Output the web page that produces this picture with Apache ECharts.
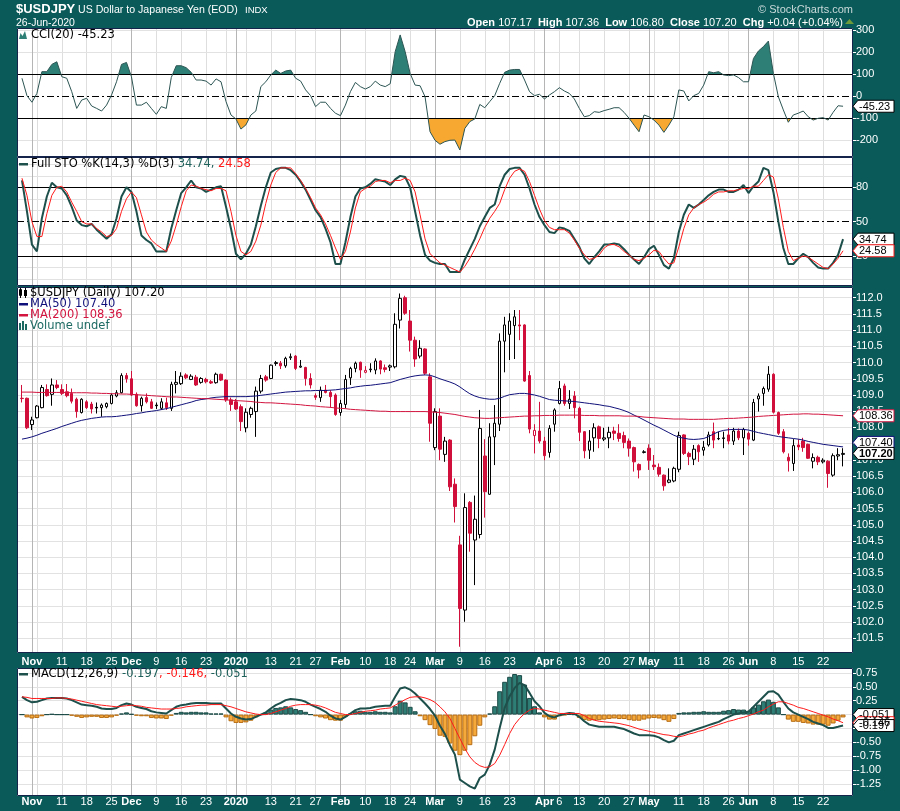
<!DOCTYPE html>
<html><head><meta charset="utf-8">
<script src="https://cdn.jsdelivr.net/npm/echarts@6/dist/echarts.min.js"></script>
<style>html,body{margin:0;padding:0;background:#0b5a5a;}#c{width:900px;height:811px;}</style>
</head><body><div id="c"></div>
<script>
// ---------- DATA (daily bars 2019-10-30 .. 2020-06-26) ----------
const firstBarDate = '2019-10-30';
const open = [108.90,108.90,108.09,108.30,108.61,109.17,109.02,109.31,109.17,109.10,109.05,108.87,
108.46,108.79,108.72,108.62,108.61,108.64,108.74,108.97,109.07,109.60,
109.50,109.02,108.67,108.92,108.79,108.69,108.59,108.76,108.59,109.33,
109.35,109.62,109.48,109.55,109.39,109.48,109.41,109.38,109.64,109.46,
108.85,108.79,108.64,107.99,108.40,108.49,109.12,109.56,109.51,109.97,
109.98,109.90,110.15,110.20,109.86,109.85,109.51,108.98,108.92,109.15,
109.08,109.00,108.46,108.71,109.53,109.82,110.01,109.70,109.78,109.77,
110.05,109.84,109.86,109.87,111.31,112.00,111.28,110.69,110.20,110.42,
109.56,107.38,108.35,107.17,107.61,106.25,104.38,102.37,105.69,104.53,
104.70,107.12,105.94,107.71,108.10,110.66,110.87,111.14,111.16,111.16,
109.60,107.75,107.89,107.58,107.23,108.10,108.74,109.28,108.74,108.97,
108.59,107.87,107.30,107.68,108.02,107.64,107.68,107.89,107.82,107.75,
107.58,107.38,106.86,107.23,107.36,106.84,106.77,106.53,106.31,106.35,
106.71,107.77,107.20,107.02,107.44,107.30,107.46,107.87,107.66,107.66,
107.77,107.58,107.89,107.68,107.82,107.61,108.88,109.05,109.18,109.64,
108.46,107.87,107.08,106.89,107.46,107.58,107.48,106.96,107.08,106.94,
106.96,106.53,107.12,107.17];
const high = [109.31,108.92,108.33,108.69,109.31,109.33,109.51,109.46,109.33,109.34,109.20,108.92,
108.90,108.84,108.79,108.77,108.74,108.77,109.05,109.15,109.67,109.68,
109.74,109.08,108.95,109.05,108.88,108.77,108.90,108.92,109.41,109.74,
109.70,109.67,109.64,109.62,109.55,109.53,109.46,109.69,109.66,109.48,
108.92,108.88,108.71,108.59,108.64,109.26,109.62,109.62,109.94,110.05,
110.05,110.18,110.28,110.23,110.08,109.87,109.67,109.05,109.26,109.31,
109.15,109.05,108.85,109.62,109.87,110.03,110.03,109.89,109.98,110.13,
110.07,109.94,109.94,111.52,112.13,112.06,111.62,110.80,110.69,110.44,
109.67,108.59,108.59,107.71,107.64,106.43,104.66,105.97,105.73,105.90,
108.54,107.64,108.13,108.69,110.90,111.41,111.52,111.62,111.62,111.18,
109.74,108.10,108.79,107.71,108.07,108.59,109.43,109.35,109.15,109.12,
108.64,107.89,107.92,108.13,108.06,107.99,108.02,108.02,108.10,107.87,
107.66,107.41,106.89,107.30,107.48,107.15,106.89,106.55,106.74,106.79,
107.87,107.79,107.25,107.46,107.48,107.58,107.87,108.15,107.87,107.87,
107.99,107.99,107.97,107.99,107.87,108.88,109.05,109.26,109.89,109.67,
108.49,107.95,107.20,107.64,107.64,107.68,107.50,107.20,107.13,107.05,
106.99,107.20,107.36,107.36];
const low = [108.77,107.95,107.92,108.28,108.59,108.95,108.67,109.18,109.00,108.93,108.74,108.30,
108.43,108.57,108.43,108.43,108.33,108.59,108.71,108.93,109.05,109.38,
108.97,108.64,108.49,108.74,108.57,108.57,108.54,108.54,108.51,109.05,
109.31,109.49,109.46,109.28,109.35,109.36,109.34,109.35,109.43,108.79,
108.51,108.54,107.89,107.85,108.30,107.71,109.05,109.41,109.49,109.90,
109.80,109.84,110.08,109.77,109.84,109.29,109.20,108.85,108.79,109.05,
108.61,108.36,108.36,108.59,109.31,109.70,109.53,109.67,109.70,109.64,
109.64,109.70,109.74,109.82,111.05,111.47,110.34,109.87,110.13,109.62,
107.56,107.30,106.99,106.94,106.04,105.07,101.24,102.01,104.17,103.14,
104.58,105.22,105.92,106.84,107.89,109.70,110.08,110.11,110.69,109.41,
107.82,107.20,107.51,106.99,107.07,107.87,108.71,108.67,108.57,108.28,
107.58,107.05,107.03,107.25,107.36,107.58,107.36,107.61,107.56,107.36,
107.10,106.64,106.43,107.20,106.69,106.69,106.48,106.05,106.28,106.31,
106.62,107.15,106.84,106.84,106.94,107.13,107.41,107.36,107.61,107.36,
107.48,107.46,107.61,107.15,107.44,107.58,108.49,108.67,109.10,108.43,
107.77,107.20,106.64,106.66,107.30,107.25,107.03,106.74,106.84,106.89,
106.14,106.48,106.99,106.80];
const close = [108.89,107.99,108.23,108.66,109.23,108.98,109.31,109.23,109.05,108.98,108.81,108.49,
108.87,108.61,108.57,108.60,108.69,108.74,109.00,109.07,109.60,109.50,
109.00,108.67,108.90,108.79,108.59,108.67,108.79,108.61,109.33,109.39,
109.58,109.53,109.58,109.31,109.51,109.41,109.37,109.64,109.46,108.85,
108.71,108.57,108.18,108.47,108.59,109.12,109.51,109.46,109.92,110.00,
109.90,110.13,110.18,109.82,109.89,109.51,109.31,108.93,109.15,109.08,
108.95,108.40,108.74,109.48,109.82,109.98,109.77,109.76,109.80,110.05,
109.80,109.79,109.90,111.18,111.98,111.52,110.69,110.11,110.44,109.67,
108.13,108.49,107.33,107.58,106.17,105.56,102.42,105.53,104.74,105.17,
107.97,106.02,107.71,108.13,110.66,111.16,111.28,111.41,111.13,109.43,
107.95,107.91,107.58,107.13,107.97,108.54,109.20,108.74,108.87,108.61,
107.85,107.28,107.58,107.99,107.66,107.68,107.85,107.82,107.66,107.54,
107.36,106.94,106.69,107.25,106.99,106.79,106.56,106.20,106.38,106.74,
107.75,107.20,107.10,107.33,107.25,107.39,107.77,107.61,107.65,107.68,
107.58,107.89,107.68,107.94,107.64,108.77,108.97,109.20,109.64,108.47,
107.82,107.25,106.97,107.44,107.40,107.38,107.05,107.07,106.94,106.99,
106.58,107.13,107.16,107.20];
const ma50 = [107.64,107.67,107.71,107.76,107.82,107.87,107.92,107.97,108.03,108.08,108.13,108.18,
108.22,108.25,108.28,108.30,108.32,108.33,108.33,108.34,108.36,108.38,
108.40,108.43,108.45,108.48,108.50,108.52,108.55,108.58,108.62,108.66,
108.70,108.74,108.78,108.83,108.86,108.88,108.91,108.93,108.94,108.95,
108.95,108.95,108.95,108.95,108.96,108.97,108.99,109.01,109.03,109.05,
109.07,109.09,109.10,109.11,109.12,109.13,109.13,109.14,109.14,109.14,
109.15,109.16,109.18,109.20,109.22,109.25,109.27,109.29,109.30,109.32,
109.34,109.36,109.38,109.43,109.48,109.52,109.56,109.59,109.61,109.62,
109.61,109.56,109.50,109.45,109.40,109.34,109.25,109.14,109.04,108.97,
108.92,108.89,108.87,108.87,108.90,108.96,109.01,109.03,109.05,109.05,
109.03,109.00,108.96,108.91,108.86,108.84,108.83,108.82,108.81,108.80,
108.78,108.76,108.74,108.72,108.70,108.67,108.65,108.61,108.57,108.52,
108.46,108.38,108.31,108.23,108.15,108.07,108.00,107.92,107.84,107.76,
107.70,107.67,107.64,107.63,107.64,107.66,107.72,107.80,107.87,107.91,
107.93,107.94,107.94,107.94,107.92,107.88,107.84,107.81,107.78,107.75,
107.72,107.70,107.68,107.66,107.64,107.61,107.57,107.54,107.51,107.48,
107.46,107.44,107.42,107.40];
const ma200 = [109.09,109.09,109.09,109.08,109.08,109.08,109.08,109.08,109.08,109.08,109.07,109.07,
109.07,109.07,109.06,109.06,109.05,109.05,109.04,109.04,109.03,109.03,
109.02,109.01,109.00,108.99,108.98,108.97,108.96,108.95,108.94,108.94,
108.93,108.92,108.91,108.90,108.89,108.89,108.88,108.87,108.86,108.85,
108.84,108.83,108.82,108.81,108.80,108.78,108.77,108.76,108.76,108.75,
108.74,108.73,108.72,108.71,108.70,108.68,108.67,108.66,108.64,108.63,
108.62,108.60,108.59,108.58,108.56,108.55,108.54,108.53,108.52,108.51,
108.50,108.50,108.49,108.49,108.49,108.49,108.49,108.49,108.49,108.49,
108.48,108.47,108.46,108.44,108.42,108.40,108.37,108.34,108.32,108.30,
108.29,108.28,108.28,108.29,108.30,108.31,108.32,108.33,108.34,108.35,
108.35,108.36,108.36,108.37,108.37,108.37,108.38,108.38,108.38,108.38,
108.38,108.37,108.37,108.37,108.36,108.36,108.36,108.36,108.36,108.35,
108.35,108.35,108.34,108.32,108.31,108.30,108.29,108.28,108.27,108.26,
108.26,108.26,108.25,108.25,108.25,108.25,108.25,108.25,108.26,108.27,
108.28,108.28,108.29,108.30,108.31,108.32,108.34,108.35,108.36,108.37,
108.38,108.39,108.40,108.41,108.41,108.42,108.42,108.41,108.41,108.40,
108.39,108.38,108.37,108.36];
const cci = [82,3,-27,13,112,112,145,157,89,82,21,-55,
-17,-9,-44,-55,-67,-40,6,66,145,154,
89,-40,-40,-27,-55,-82,-47,-55,85,139,
139,130,109,74,74,69,51,79,66,-24,
-85,-103,-149,-130,-85,-67,44,66,97,119,
104,115,119,82,69,29,3,-47,-27,-27,
-55,-77,-88,-40,21,63,44,33,44,69,
51,44,57,203,279,203,104,51,48,-2,
-161,-200,-218,-206,-200,-199,-244,-146,-115,-103,
-37,-52,-24,3,59,109,119,122,122,74,
21,3,9,-12,6,21,39,24,13,-12,
-55,-93,-88,-70,-73,-65,-59,-52,-52,-73,
-100,-131,-161,-85,-93,-108,-131,-164,-131,-93,
29,24,-21,3,13,51,112,107,112,97,
94,97,85,66,66,172,206,226,251,104,
-2,-62,-118,-85,-77,-67,-93,-108,-100,-97,
-108,-73,-43,-45.23];
const stoK = [86,59,30,24,53,72,84,80,79,73,63,51,
47,46,48,43,39,35,39,53,72,80,
76,59,38,34,31,24,24,24,44,60,
75,80,86,80,79,76,78,80,81,63,
44,22,17,22,30,46,64,80,93,96,
97,97,95,91,85,78,69,60,54,44,
32,13,13,32,54,72,79,80,83,87,
86,85,82,87,90,89,80,59,38,21,
16,14,13,13,6,6,6,17,26,35,
46,54,62,65,81,91,96,97,97,91,
79,65,54,47,41,40,45,44,42,35,
28,18,13,19,24,30,30,31,30,26,
21,17,13,19,26,29,21,12,9,18,
41,56,65,62,65,69,73,76,78,78,
76,76,78,82,75,81,85,97,95,76,
50,27,13,13,18,22,19,14,10,9,
9,14,21,34.74];
const stoD = [88,73,50,37,37,57,73,80,81,76,67,59,
50,48,48,44,41,37,38,44,59,70,
76,71,56,41,34,30,27,24,33,47,
63,77,82,81,79,78,77,79,79,77,
59,38,24,21,24,33,47,66,82,93,
97,97,97,92,86,79,71,62,56,48,
38,27,17,24,41,62,76,79,81,85,
86,86,84,86,86,88,86,76,56,35,
22,18,14,12,10,8,6,11,18,26,
35,45,53,59,66,78,88,94,96,94,
85,73,61,51,45,43,43,43,40,34,
27,21,17,18,21,27,30,30,28,24,
21,17,16,18,21,25,24,18,13,14,
28,44,56,62,65,67,70,74,76,76,
77,77,78,79,79,81,81,86,91,89,
70,45,24,16,18,20,19,16,13,10,
9,13,18,24.58];
const macd = [0.32,0.26,0.22,0.23,0.26,0.29,0.30,0.30,0.30,0.29,0.26,0.22,
0.18,0.17,0.16,0.14,0.11,0.10,0.10,0.12,0.17,0.20,
0.18,0.14,0.12,0.10,0.06,0.04,0.03,0.02,0.08,0.14,
0.17,0.18,0.20,0.21,0.21,0.21,0.20,0.20,0.20,0.11,
0.02,-0.04,-0.07,-0.09,-0.08,-0.04,0.00,0.04,0.11,0.17,
0.21,0.26,0.28,0.27,0.26,0.23,0.18,0.14,0.10,0.05,
-0.02,-0.07,-0.09,-0.04,0.02,0.08,0.11,0.11,0.12,0.14,
0.15,0.16,0.16,0.32,0.47,0.49,0.45,0.38,0.29,0.20,
0.10,-0.02,-0.20,-0.35,-0.55,-0.72,-1.17,-1.23,-1.29,-1.33,
-1.14,-1.08,-0.90,-0.63,-0.24,0.12,0.33,0.48,0.57,0.53,
0.39,0.24,0.15,0.03,-0.03,-0.05,-0.01,0.01,0.03,0.02,
-0.04,-0.12,-0.18,-0.20,-0.22,-0.22,-0.22,-0.22,-0.24,-0.26,
-0.30,-0.34,-0.37,-0.37,-0.37,-0.38,-0.41,-0.46,-0.50,-0.47,
-0.37,-0.34,-0.31,-0.28,-0.25,-0.22,-0.19,-0.16,-0.13,-0.08,
-0.04,0.00,0.02,0.04,0.05,0.14,0.23,0.32,0.41,0.42,
0.36,0.23,0.11,0.04,0.00,-0.04,-0.08,-0.13,-0.16,-0.19,
-0.24,-0.24,-0.22,-0.197];
const signal = [0.32,0.31,0.29,0.29,0.29,0.29,0.29,0.30,0.30,0.29,0.28,0.26,
0.24,0.22,0.20,0.18,0.17,0.16,0.15,0.14,0.15,0.16,
0.17,0.16,0.15,0.13,0.12,0.11,0.10,0.10,0.10,0.11,
0.12,0.14,0.15,0.16,0.17,0.17,0.18,0.18,0.18,0.16,
0.14,0.11,0.08,0.05,0.03,0.01,0.00,0.00,0.02,0.05,
0.08,0.11,0.15,0.17,0.18,0.18,0.18,0.17,0.15,0.12,
0.08,0.04,0.02,0.00,0.00,0.02,0.04,0.06,0.07,0.08,
0.10,0.11,0.12,0.17,0.22,0.27,0.31,0.32,0.32,0.30,
0.27,0.22,0.14,0.05,-0.07,-0.25,-0.43,-0.61,-0.76,-0.86,
-0.92,-0.95,-0.94,-0.88,-0.73,-0.54,-0.34,-0.18,-0.07,0.02,
0.08,0.11,0.10,0.08,0.06,0.04,0.02,0.02,0.02,0.02,
0.02,-0.02,-0.07,-0.10,-0.12,-0.13,-0.14,-0.15,-0.16,-0.18,
-0.20,-0.23,-0.26,-0.28,-0.30,-0.32,-0.34,-0.36,-0.37,-0.39,
-0.40,-0.38,-0.35,-0.33,-0.30,-0.28,-0.24,-0.21,-0.18,-0.15,
-0.12,-0.10,-0.07,-0.05,-0.02,0.01,0.05,0.08,0.14,0.19,
0.23,0.23,0.20,0.17,0.13,0.11,0.08,0.05,0.02,-0.01,
-0.04,-0.08,-0.11,-0.146];
const hist = [0.00,-0.05,-0.07,-0.06,-0.03,0.00,0.01,0.00,0.00,0.00,-0.02,-0.04,
-0.06,-0.05,-0.04,-0.04,-0.06,-0.06,-0.05,-0.02,0.02,0.04,
0.01,-0.02,-0.03,-0.03,-0.06,-0.07,-0.07,-0.08,-0.02,0.03,
0.05,0.04,0.05,0.05,0.04,0.04,0.02,0.02,0.02,-0.05,
-0.12,-0.15,-0.15,-0.14,-0.11,-0.05,0.00,0.04,0.09,0.12,
0.13,0.15,0.13,0.10,0.08,0.05,0.00,-0.03,-0.05,-0.07,
-0.10,-0.11,-0.11,-0.04,0.02,0.06,0.07,0.05,0.05,0.06,
0.05,0.05,0.04,0.15,0.25,0.22,0.14,0.06,-0.03,-0.10,
-0.19,-0.26,-0.38,-0.40,-0.52,-0.65,-0.73,-0.65,-0.55,-0.39,
-0.20,-0.05,0.02,0.15,0.42,0.59,0.68,0.73,0.71,0.54,
0.30,0.15,0.04,-0.05,-0.09,-0.09,-0.03,-0.01,0.01,0.00,
-0.06,-0.10,-0.11,-0.10,-0.10,-0.09,-0.08,-0.07,-0.08,-0.08,
-0.10,-0.11,-0.11,-0.09,-0.07,-0.06,-0.07,-0.10,-0.13,-0.08,
0.03,0.04,0.04,0.05,0.05,0.06,0.05,0.05,0.05,0.07,
0.08,0.10,0.09,0.09,0.07,0.13,0.18,0.24,0.27,0.23,
0.13,0.00,-0.09,-0.13,-0.13,-0.15,-0.16,-0.18,-0.18,-0.18,
-0.20,-0.16,-0.11,-0.051];

// tick labels of the date axis
const tickDates = ['2019-11-01','2019-11-11','2019-11-18','2019-11-25','2019-12-02','2019-12-09','2019-12-16','2019-12-23','2020-01-02','2020-01-13','2020-01-21','2020-01-27','2020-02-03','2020-02-10','2020-02-18','2020-02-24','2020-03-02','2020-03-09','2020-03-16','2020-03-23','2020-04-01','2020-04-06','2020-04-13','2020-04-20','2020-04-27','2020-05-01','2020-05-11','2020-05-18','2020-05-26','2020-06-01','2020-06-08','2020-06-15','2020-06-22'];
const tickTexts = ['Nov','11','18','25','Dec','9','16','23','2020','13','21','27','Feb','10','18','24','Mar','9','16','23','Apr','6','13','20','27','May','11','18','26','Jun','8','15','22'];
const monthDates = ['2019-11-01','2019-12-02','2020-01-02','2020-02-03','2020-03-02','2020-04-01','2020-05-01','2020-06-01'];
const weekDates = ['2019-11-04','2019-11-11','2019-11-18','2019-11-25','2019-12-02','2019-12-09','2019-12-16','2019-12-23','2019-12-30','2020-01-06','2020-01-13','2020-01-21','2020-01-27','2020-02-03','2020-02-10','2020-02-18','2020-02-24','2020-03-02','2020-03-09','2020-03-16','2020-03-23','2020-03-30','2020-04-06','2020-04-13','2020-04-20','2020-04-27','2020-05-04','2020-05-11','2020-05-18','2020-05-26','2020-06-01','2020-06-08','2020-06-15','2020-06-22'];
const holidays = ['2019-11-28','2019-12-25','2020-01-01','2020-01-20','2020-02-17','2020-04-10','2020-05-25'];
const priceTicks = [101.5,102,102.5,103,103.5,104,104.5,105,105.5,106,106.5,107,107.5,108,108.5,109,109.5,110,110.5,111,111.5,112];
const cciTicks = [300,200,100,0,-100,-200];
const stoTicks = [80,50,20];
const macdTicks = [0.75,0.5,0.25,0,-0.25,-0.5,-0.75,-1,-1.25];

// ---------- BUILD ----------
function tradingDays(from, to) {
  const out = []; let t = Date.parse(from + 'T00:00:00Z'); const end = Date.parse(to + 'T00:00:00Z');
  while (t <= end) { const d = new Date(t); const wd = d.getUTCDay(); const s = d.toISOString().slice(0, 10);
    if (wd !== 0 && wd !== 6 && holidays.indexOf(s) < 0) out.push(s); t += 86400000; }
  return out;
}
const cats = tradingDays('2019-10-29', '2020-06-30');
const lead = cats.indexOf(firstBarDate);
const trail = cats.length - lead - close.length;
function pad(a) { const r = []; for (let i = 0; i < lead; i++) r.push(null); for (const v of a) r.push(v); for (let i = 0; i < trail; i++) r.push(null); return r; }

const RED = '#d0103a', BLK = '#000000';
const candleData = [];
for (let i = 0; i < lead; i++) candleData.push(['-','-','-','-']);
for (let i = 0; i < close.length; i++) {
  const o = open[i], c = close[i], prev = i > 0 ? close[i - 1] : o;
  const col = c >= prev ? BLK : RED;
  const fill = c > o ? '#ffffff' : col;
  candleData.push({ value: [o, c, low[i], high[i]], itemStyle: { color: fill, color0: fill, borderColor: col, borderColor0: col } });
}
for (let i = 0; i < trail; i++) candleData.push(['-','-','-','-']);
const histData = pad(hist).map(v => v === null ? '-' : { value: v, itemStyle: v >= 0 ? { color: '#2f7e76', borderColor: '#1b4a46' } : { color: '#f6a93b', borderColor: '#b66c12' } });

const tickSet = new Set(tickDates), weekSet = new Set(weekDates), monthSet = new Set(monthDates);
const FONT = '"Liberation Sans", Arial, sans-serif';
const LFONT = '"DejaVu Sans", Verdana, sans-serif';

const G = [
  { left: 17, right: 47, top: 28, height: 129 },
  { left: 17, right: 47, top: 157, height: 129 },
  { left: 17, right: 47, top: 287, height: 366 },
  { left: 17, right: 47, top: 668, height: 128 }
];
function xAx(gi, show, margin) {
  return { type: 'category', gridIndex: gi, data: cats, boundaryGap: false,
    axisLine: { show: false }, axisTick: { show: false },
    axisLabel: { show: show, interval: (i, v) => tickSet.has(v), margin: margin, color: '#fff', fontSize: 11, fontFamily: FONT,
      formatter: v => { const k = tickDates.indexOf(v); if (k < 0) return ''; return monthSet.has(v) ? '{b|' + tickTexts[k] + '}' : '{n|' + tickTexts[k] + '}'; },
      rich: { b: { fontWeight: 'bold', color: '#fff', fontSize: 11, fontFamily: FONT }, n: { color: '#fff', fontSize: 11, fontFamily: FONT } } },
    splitLine: { show: true, interval: (i, v) => weekSet.has(v), lineStyle: { color: '#dedede', width: 1 } } };
}
function yAx(gi, min, max, vals, fmt) {
  return { type: 'value', gridIndex: gi, position: 'right', min: min, max: max,
    axisLine: { show: false }, splitLine: { show: false },
    axisTick: { show: true, length: 3, lineStyle: { color: '#ffffff' }, customValues: vals },
    axisLabel: { color: '#ffffff', fontSize: 11, fontFamily: FONT, margin: 3, customValues: vals, formatter: fmt } };
}
function gridML(yVals) {
  return { silent: true, symbol: ['none', 'none'], animation: false, z: 1, label: { show: false }, emphasis: { disabled: true },
    lineStyle: { color: '#e2e2e2', width: 1, type: 'solid' },
    data: yVals.map(v => ({ yAxis: v })).concat(monthDates.map(d => ({ xAxis: d, lineStyle: { color: '#b5b5b5', width: 1, type: 'solid' } }))) };
}
function refML(solid, dashed) {
  return { silent: true, symbol: ['none', 'none'], animation: false, z: 3, label: { show: false }, emphasis: { disabled: true },
    lineStyle: { color: '#000', width: 1, type: 'solid' },
    data: solid.map(v => ({ yAxis: v })).concat(dashed.map(v => ({ yAxis: v, lineStyle: { color: '#000', width: 1, type: [7, 3, 2, 3] } }))) };
}
const lineBase = { type: 'line', symbol: 'none', showSymbol: false, animation: false, connectNulls: false, emphasis: { disabled: true } };

const chart = echarts.init(document.getElementById('c'), null, { renderer: 'canvas', width: 900, height: 811 });
chart.setOption({
  animation: false,
  backgroundColor: '#0b5a5a',
  grid: G,
  xAxis: [xAx(0, false, 0), xAx(1, false, 0), xAx(2, true, 3), xAx(3, true, 0)],
  yAxis: [
    yAx(0, -276, 310.5, cciTicks, v => String(Math.round(v))),
    yAx(1, -6.2, 106.5, stoTicks, v => String(Math.round(v))),
    yAx(2, 101.047, 112.33, priceTicks, v => v.toFixed(1)),
    yAx(3, -1.464, 0.838, macdTicks, v => v.toFixed(2))
  ],
  visualMap: [
    { type: 'piecewise', show: false, seriesIndex: 0, dimension: 1,
      pieces: [{ gte: -10000, lte: 100, color: 'rgba(255,255,255,0)' }, { gt: 100, lte: 10000, color: '#2e8076' }],
      outOfRange: { color: 'rgba(255,255,255,0)' } },
    { type: 'piecewise', show: false, seriesIndex: 1, dimension: 1,
      pieces: [{ gte: -10000, lt: -100, color: '#f6a831' }, { gte: -100, lte: 10000, color: 'rgba(255,255,255,0)' }],
      outOfRange: { color: 'rgba(255,255,255,0)' } }
  ],
  series: [
    Object.assign({}, lineBase, { name: 'cciUp', xAxisIndex: 0, yAxisIndex: 0, data: pad(cci), z: 2, lineStyle: { width: 0 }, areaStyle: { origin: 100, opacity: 1 }, markLine: gridML([300, 200, -200]) }),
    Object.assign({}, lineBase, { name: 'cciDn', xAxisIndex: 0, yAxisIndex: 0, data: pad(cci), z: 2, lineStyle: { width: 0 }, areaStyle: { origin: -100, opacity: 1 }, markLine: refML([100, -100], [0]) }),
    Object.assign({}, lineBase, { name: 'CCI', xAxisIndex: 0, yAxisIndex: 0, data: pad(cci), z: 5, lineStyle: { color: '#2c5553', width: 1 } }),
    Object.assign({}, lineBase, { name: '%K', xAxisIndex: 1, yAxisIndex: 1, data: pad(stoK), z: 4, lineStyle: { color: '#1d4f4b', width: 2 }, markLine: refML([80, 20], [50]) }),
    Object.assign({}, lineBase, { name: '%D', xAxisIndex: 1, yAxisIndex: 1, data: pad(stoD), z: 5, lineStyle: { color: '#ff1a1a', width: 1 }, markLine: gridML([0, 10, 30, 40, 60, 70, 90, 100]) }),
    { type: 'candlestick', name: 'USDJPY', xAxisIndex: 2, yAxisIndex: 2, data: candleData, barWidth: 3, z: 3, animation: false, emphasis: { disabled: true }, itemStyle: { borderWidth: 1 } },
    Object.assign({}, lineBase, { name: 'MA50', xAxisIndex: 2, yAxisIndex: 2, data: pad(ma50), z: 4, lineStyle: { color: '#10107a', width: 1 }, markLine: gridML(priceTicks) }),
    Object.assign({}, lineBase, { name: 'MA200', xAxisIndex: 2, yAxisIndex: 2, data: pad(ma200), z: 4, lineStyle: { color: '#d2143f', width: 1 } }),
    { type: 'bar', name: 'Hist', xAxisIndex: 3, yAxisIndex: 3, data: histData, barWidth: '100%', z: 2, animation: false, emphasis: { disabled: true }, itemStyle: { borderWidth: 1 }, markLine: gridML(macdTicks) },
    Object.assign({}, lineBase, { name: 'MACD', xAxisIndex: 3, yAxisIndex: 3, data: pad(macd), z: 4, lineStyle: { color: '#1d4f4b', width: 2 } }),
    Object.assign({}, lineBase, { name: 'Signal', xAxisIndex: 3, yAxisIndex: 3, data: pad(signal), z: 5, lineStyle: { color: '#ff1a1a', width: 1 } })
  ]
});

// ---------- GRAPHICS: panels, header, legends, value tags ----------
const gfx = [];
G.forEach(g => {
  gfx.push({ type: 'rect', z: -10, silent: true, shape: { x: g.left, y: g.top, width: 900 - g.left - g.right, height: g.height }, style: { fill: '#ffffff' } });
  gfx.push({ type: 'rect', z: 100, silent: true, shape: { x: g.left + 0.5, y: g.top + 0.5, width: 900 - g.left - g.right - 1, height: g.height - 1 }, style: { fill: 'none', stroke: '#14244a', lineWidth: 1 } });
});
function txt(x, y, text, font, fill, align, rich) {
  const o = { type: 'text', z: 120, silent: true, x: x, y: y, style: { text: text, font: font, fill: fill, align: align || 'left', verticalAlign: 'middle' } };
  if (rich) o.style.rich = rich;
  return o;
}
// header
gfx.push(txt(16, 9.5, '$USDJPY', 'bold 13px ' + FONT, '#ffffff'));
gfx.push(txt(78, 10, 'US Dollar to Japanese Yen (EOD)', '10.6px ' + FONT, '#ffffff'));
gfx.push(txt(245, 10, 'INDX', '9.5px ' + FONT, '#ffffff'));
gfx.push(txt(16, 23, '26-Jun-2020', '10.5px ' + FONT, '#ffffff'));
gfx.push(txt(853, 9.5, '\u00A9 StockCharts.com', '11px ' + FONT, '#c9d9d9', 'right'));
gfx.push(txt(843, 22.5, '{b|Open} 107.17  {b|High} 107.36  {b|Low} 106.80  {b|Close} 107.20  {b|Chg} +0.04 (+0.04%)', '11px ' + FONT, '#ffffff', 'right',
  { b: { font: 'bold 11px ' + FONT, fill: '#ffffff' } }));
gfx.push({ type: 'polygon', z: 120, silent: true, shape: { points: [[845, 24], [849.5, 19], [854, 24]] }, style: { fill: '#6d9a3a' } });
// CCI legend
gfx.push({ type: 'polygon', z: 120, silent: true, shape: { points: [[19, 39], [20.5, 33], [22.5, 36], [25, 31], [27, 39]] }, style: { fill: '#2e8076' } });
gfx.push(txt(31, 35.5, 'CCI(20) -45.23', '11.5px ' + LFONT, '#000000'));
// STO legend
gfx.push({ type: 'rect', z: 120, silent: true, shape: { x: 19, y: 163, width: 9, height: 2.5 }, style: { fill: '#1d4f4b' } });
gfx.push(txt(31, 164.5, 'Full STO %K(14,3) %D(3) {k|34.74,} {d|24.58}', '11.5px ' + LFONT, '#000000', 'left',
  { k: { fill: '#1d5f59', font: '11.5px ' + LFONT }, d: { fill: '#ff1a1a', font: '11.5px ' + LFONT } }));
// price legend
gfx.push({ type: 'rect', z: 120, silent: true, shape: { x: 19.5, y: 289.5, width: 2, height: 6 }, style: { fill: '#fff', stroke: '#000', lineWidth: 1 } });
gfx.push({ type: 'line', z: 120, silent: true, shape: { x1: 20.5, y1: 288, x2: 20.5, y2: 298 }, style: { stroke: '#000', lineWidth: 1 } });
gfx.push({ type: 'rect', z: 120, silent: true, shape: { x: 24, y: 290, width: 3, height: 6 }, style: { fill: '#000' } });
gfx.push({ type: 'line', z: 120, silent: true, shape: { x1: 25.5, y1: 288, x2: 25.5, y2: 298 }, style: { stroke: '#000', lineWidth: 1 } });
gfx.push(txt(30, 293.5, '$USDJPY (Daily) 107.20', '11.5px ' + LFONT, '#000000'));
gfx.push({ type: 'rect', z: 120, silent: true, shape: { x: 19, y: 303, width: 9, height: 2.5 }, style: { fill: '#10107a' } });
gfx.push(txt(30, 304.5, 'MA(50) 107.40', '11.5px ' + LFONT, '#10107a'));
gfx.push({ type: 'rect', z: 120, silent: true, shape: { x: 19, y: 314, width: 9, height: 2.5 }, style: { fill: '#d2143f' } });
gfx.push(txt(30, 315.2, 'MA(200) 108.36', '11.5px ' + LFONT, '#d2143f'));
[[19, 323], [22, 321], [25, 324]].forEach(p => gfx.push({ type: 'rect', z: 120, silent: true, shape: { x: p[0], y: p[1], width: 2, height: 330 - p[1] }, style: { fill: '#1d6a63' } }));
gfx.push(txt(30, 326, 'Volume undef', '11.5px ' + LFONT, '#1d6a63'));
// MACD legend
gfx.push({ type: 'rect', z: 120, silent: true, shape: { x: 19, y: 673, width: 9, height: 2.5 }, style: { fill: '#1d4f4b' } });
gfx.push(txt(31, 674.5, 'MACD(12,26,9) {k|-0.197}{d|, -0.146,} {k|-0.051}', '11.5px ' + LFONT, '#000000', 'left',
  { k: { fill: '#1d5f59', font: '11.5px ' + LFONT }, d: { fill: '#ff1a1a', font: '11.5px ' + LFONT } }));

// value tags on the right axis, positioned by the axis scales
function yPix(gi, v) { return chart.convertToPixel({ yAxisIndex: gi }, v); }
function tag(y, text, stroke, bold) {
  const x0 = 853;
  gfx.push({ type: 'polygon', z: 130, silent: true, shape: { points: [[x0, y], [x0 + 5, y - 6], [x0 + 41, y - 6], [x0 + 41, y + 6], [x0 + 5, y + 6]] }, style: { fill: '#ffffff', stroke: stroke, lineWidth: 1 } });
  gfx.push({ type: 'text', z: 131, silent: true, x: x0 + 6, y: y + 0.5, style: { text: text, font: (bold ? 'bold ' : '') + '11px ' + FONT, fill: '#000000', verticalAlign: 'middle' } });
}
const L = close.length - 1;
tag(yPix(0, cci[L]), cci[L].toFixed(2), '#000000');
tag(yPix(1, stoK[L]), stoK[L].toFixed(2), '#000000');
tag(yPix(1, stoD[L]), stoD[L].toFixed(2), '#ff1a1a');
let yC = yPix(2, close[L]), y50 = yPix(2, ma50[L]), y200 = yPix(2, ma200[L]);
if (yC - y50 < 11) y50 = yC - 11;
tag(y200, ma200[L].toFixed(2), '#d2143f');
tag(y50, ma50[L].toFixed(2), '#10107a');
tag(yC, close[L].toFixed(2), '#000000', true);
let yM = yPix(3, macd[L]), yH = yPix(3, hist[L]), yS = yPix(3, signal[L]);
if (yM - yH < 11) yH = yM - 11;
tag(yH, hist[L].toFixed(3), '#000000');
tag(yS, signal[L].toFixed(3), '#ff1a1a');
tag(yM, macd[L].toFixed(3), '#000000');

chart.setOption({ graphic: { elements: gfx } });
</script>
</body></html>
